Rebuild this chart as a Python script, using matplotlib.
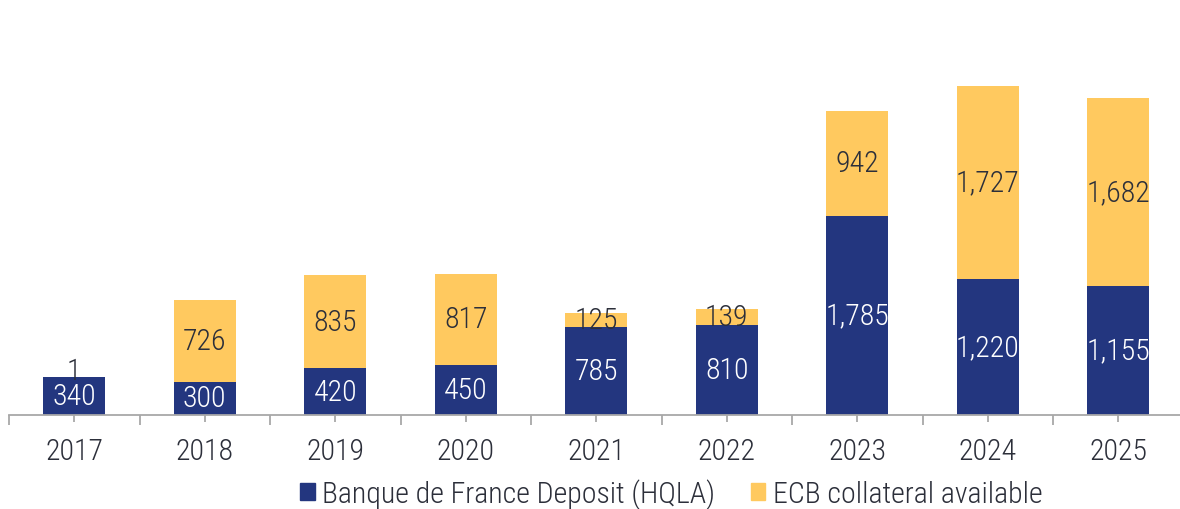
import numpy as np
import matplotlib.pyplot as plt
from matplotlib.patches import Patch

plt.rcParams['font.family'] = ['Roboto Condensed', 'Noto Sans', 'DejaVu Sans']
plt.rcParams['font.stretch'] = 'condensed'
plt.rcParams['font.weight'] = 'light'

years = ['2017', '2018', '2019', '2020', '2021', '2022', '2023', '2024', '2025']
bdf_deposit = [340, 300, 420, 450, 785, 810, 1785, 1220, 1155]
ecb_collateral = [1, 726, 835, 817, 125, 139, 942, 1727, 1682]

blue = '#23367f'
yellow = '#ffc95f'
text_dark = '#2c2f3a'
axis_grey = '#a8a8a8'

fig = plt.figure(figsize=(11.8, 5.1), dpi=100)
ax = fig.add_axes([9 / 1180, 94 / 510, 1174.5 / 1180, 416 / 510])

x = np.arange(len(years))
width = 0.475
ax.bar(x, bdf_deposit, width, color=blue)
ax.bar(x, ecb_collateral, width, bottom=bdf_deposit, color=yellow)

ax.set_xlim(-0.5, len(years) - 0.5)
ax.set_ylim(0, 3727)

# value labels centred in each segment
for xi, b, e in zip(x, bdf_deposit, ecb_collateral):
    ax.text(xi, b / 2, f'{b:,}', ha='center', va='center', color='white', fontsize=21.5)
    ax.text(xi, b + e / 2 + (50 if e < 10 else 0), f'{e:,}', ha='center', va='center',
            color=text_dark, fontsize=21.5)

for side in ['top', 'right', 'left']:
    ax.spines[side].set_visible(False)
ax.spines['bottom'].set_color(axis_grey)
ax.spines['bottom'].set_linewidth(1.3)
ax.set_yticks([])

ax.set_xticks(x)
ax.set_xticklabels(years, fontsize=21.5, color=text_dark)
ax.set_xticks(np.arange(-0.5, len(years)), minor=True)
ax.tick_params(axis='x', which='major', length=5, width=1.3, color=axis_grey, pad=11)
ax.tick_params(axis='x', which='minor', length=7, width=1.3, color=axis_grey)

handles = [Patch(color=blue), Patch(color=yellow)]
fig.legend(handles, ['Banque de France Deposit (HQLA)', 'ECB collateral available'],
           loc='lower center', bbox_to_anchor=(0.569, -0.052), ncol=2, frameon=False,
           fontsize=21.5, labelcolor=text_dark, handlelength=0.48, handleheight=0.48,
           handletextpad=0.25, columnspacing=1.2)

fig.savefig('out.png', dpi=100)
